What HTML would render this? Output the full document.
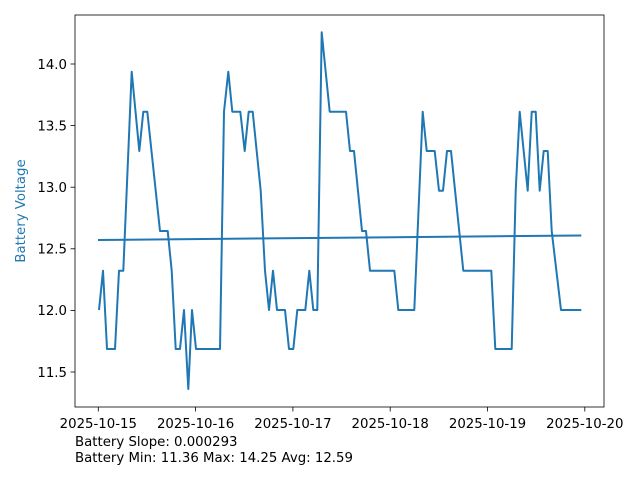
<!DOCTYPE html>
<html><head><meta charset="utf-8"><style>
html,body{margin:0;padding:0;background:#fff;}
svg{display:block;font-family:"DejaVu Sans","Liberation Sans",sans-serif;}
</style></head><body>
<svg width="640" height="480" viewBox="0 0 640 480" xmlns="http://www.w3.org/2000/svg">
<rect width="640" height="480" fill="#fff"/>
<g stroke="#000" stroke-width="0.8">
<line x1="70.5" y1="64" x2="75" y2="64"/>
<line x1="70.5" y1="125.6" x2="75" y2="125.6"/>
<line x1="70.5" y1="187.2" x2="75" y2="187.2"/>
<line x1="70.5" y1="248.8" x2="75" y2="248.8"/>
<line x1="70.5" y1="310.4" x2="75" y2="310.4"/>
<line x1="70.5" y1="372" x2="75" y2="372"/>
<line x1="98.3" y1="407" x2="98.3" y2="411.5"/>
<line x1="195.6" y1="407" x2="195.6" y2="411.5"/>
<line x1="292.9" y1="407" x2="292.9" y2="411.5"/>
<line x1="390.2" y1="407" x2="390.2" y2="411.5"/>
<line x1="487.5" y1="407" x2="487.5" y2="411.5"/>
<line x1="584.8" y1="407" x2="584.8" y2="411.5"/>
</g>
<g font-size="13.3" fill="#000" text-anchor="end">
<text x="67" y="68.8">14.0</text>
<text x="67" y="130.4">13.5</text>
<text x="67" y="192">13.0</text>
<text x="67" y="253.6">12.5</text>
<text x="67" y="315.2">12.0</text>
<text x="67" y="376.8">11.5</text>
</g>
<g font-size="13.3" fill="#000" text-anchor="middle">
<text x="98.3" y="428">2025-10-15</text>
<text x="195.6" y="428">2025-10-16</text>
<text x="292.9" y="428">2025-10-17</text>
<text x="390.2" y="428">2025-10-18</text>
<text x="487.5" y="428">2025-10-19</text>
<text x="584.8" y="428">2025-10-20</text>
</g>
<text transform="translate(25,211) rotate(-90)" font-size="13.3" fill="#1f77b4" text-anchor="middle">Battery Voltage</text>
<text x="75" y="446" font-size="13.3" fill="#000">Battery Slope: 0.000293</text>
<text x="75" y="462" font-size="13.3" fill="#000">Battery Min: 11.36 Max: 14.25 Avg: 12.59</text>
<g fill="none" stroke="#1f77b4" stroke-width="2" stroke-linejoin="round">
<polyline points="99,310 103,270.7 107,349 115,349 119,270.7 123.3,270.7 131.7,71.7 139.3,151 143.3,111.7 147.3,111.7 160,231 167.7,231 171.7,270.7 175.7,349 180,349 184,310 188.3,389 192,310 196,349 220,349 224,111.7 228.3,71.7 232.3,111.7 240.3,111.7 244.7,151 248.7,111.7 252.7,111.7 260.7,190.7 265,270.7 269,310 273,270.7 277,310 285,310 289,349 293.3,349 297.3,310 305.3,310 309.3,270.7 313.3,310 317.3,310 321.7,32.3 329.7,111.7 346,111.7 350,151 354,151 362,231 366,231 370,270.7 394.3,270.7 398.3,310 414.3,310 422.7,111.7 426.7,151 434.7,151 439,190.7 443,190.7 447,151 451,151 463.3,270.7 491.3,270.7 495.3,349 511.7,349 515.7,190.7 519.7,111.7 527.7,190.7 531.7,111.7 535.7,111.7 539.7,190.7 543.7,151 547.7,151 551.7,231 561,310 581.3,310"/>
<line x1="98" y1="240" x2="581.3" y2="235.5"/>
</g>
<rect x="75" y="15" width="529" height="392" fill="none" stroke="#000" stroke-width="0.8"/>
</svg>
</body></html>
